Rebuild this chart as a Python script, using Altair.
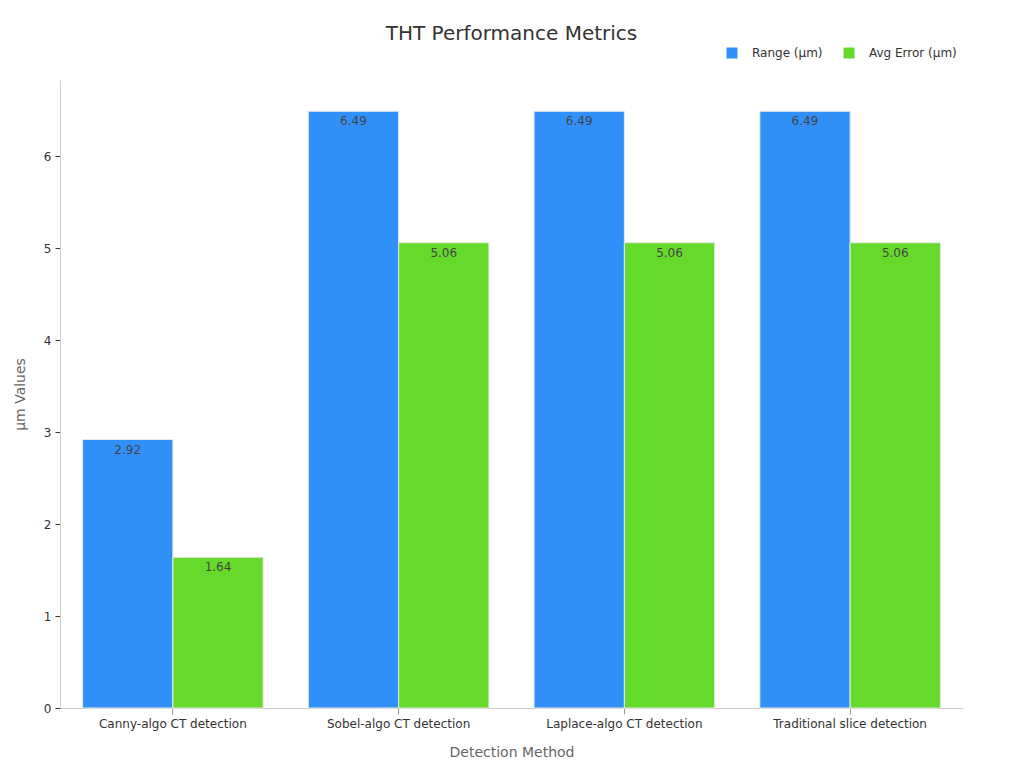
import altair as alt
import pandas as pd

methods = ["Canny-algo CT detection", "Sobel-algo CT detection",
           "Laplace-algo CT detection", "Traditional slice detection"]
series = ["Range (μm)", "Avg Error (μm)"]
range_vals = [2.92, 6.49, 6.49, 6.49]
err_vals = [1.64, 5.06, 5.06, 5.06]
colors = ["#3090F8", "#66DA2A"]

rows = []
for m, r, e in zip(methods, range_vals, err_vals):
    rows.append({"method": m, "series": series[0], "value": r})
    rows.append({"method": m, "series": series[1], "value": e})
df = pd.DataFrame(rows)

FONT = "DejaVu Sans"

x = alt.X("method:N", sort=methods, title="Detection Method",
          scale=alt.Scale(paddingInner=0.2, paddingOuter=0.1),
          axis=alt.Axis(labelAngle=0, labelFontSize=12, labelColor="#333333",
                        titleFontSize=14, titleColor="#666666", titleFontWeight="normal",
                        titlePadding=16, domainColor="#cccccc", tickColor="#999999",
                        tickSize=6, labelPadding=4))
y = alt.Y("value:Q", title="μm Values",
          scale=alt.Scale(domain=[0, 6.83], nice=False),
          axis=alt.Axis(values=[0, 1, 2, 3, 4, 5, 6], format="d", grid=False, labelFontSize=12,
                        labelColor="#333333", titleFontSize=14, titleColor="#666666",
                        titleFontWeight="normal", titlePadding=16, domainColor="#cccccc",
                        tickColor="#333333", tickSize=5, labelPadding=4))
xo = alt.XOffset("series:N", sort=series)

bars = alt.Chart(df).mark_bar(stroke="#e8e8e8", strokeWidth=1).encode(
    x=x, y=y, xOffset=xo,
    color=alt.Color("series:N", sort=series,
                    scale=alt.Scale(domain=series, range=colors),
                    legend=alt.Legend(title=None, orient="none", direction="horizontal",
                                      legendX=666, legendY=-33, symbolType="square",
                                      symbolSize=120, labelFontSize=12, labelColor="#333333",
                                      labelOffset=14, columnPadding=20, symbolStrokeWidth=0)),
)

labels = alt.Chart(df).mark_text(baseline="top", dy=5, fontSize=12, color="#444444",
                                  font=FONT).encode(
    x=alt.X("method:N", sort=methods), y="value:Q", xOffset=xo,
    text=alt.Text("value:Q", format=".2f"),
)

chart = alt.layer(bars, labels).properties(
    width=903, height=628,
    title=alt.TitleParams("THT Performance Metrics", fontSize=20, fontWeight="normal",
                          color="#333333", anchor="middle", offset=3, font=FONT),
    autosize=alt.AutoSizeParams(type="none"),
    padding={"left": 52, "top": 72, "right": 53, "bottom": 52},
).configure(font=FONT).configure_view(stroke=None)

chart.save("out.html", embed_options={"renderer": "svg", "actions": False})
